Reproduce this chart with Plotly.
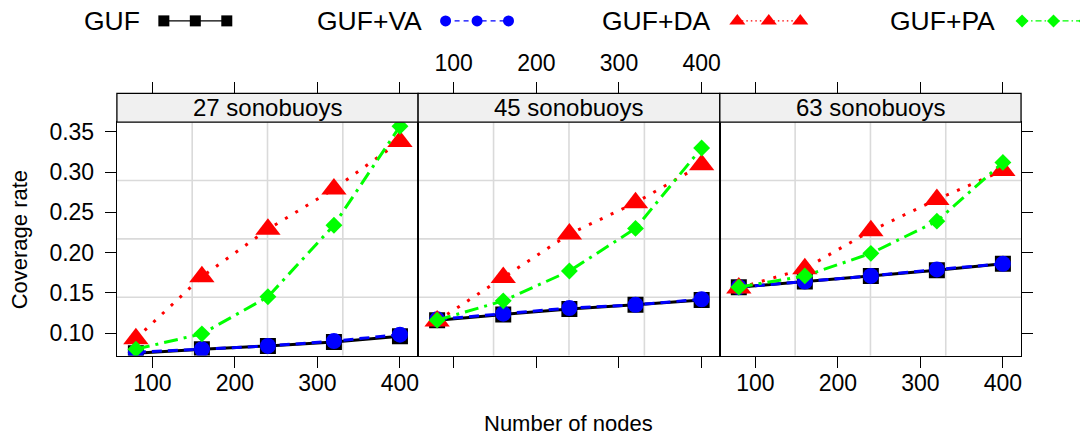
import plotly.graph_objects as go

# Number of nodes (x) shared by every panel
nodes = [80, 160, 240, 320, 400]
panel_titles = ["27 sonobuoys", "45 sonobuoys", "63 sonobuoys"]
tick_vals = [100, 200, 300, 400]
y_ticks = [0.10, 0.15, 0.20, 0.25, 0.30, 0.35]

# Coverage rate per scheme and panel
guf_27 = [0.075, 0.080, 0.084, 0.089, 0.096]
va_27 = [0.076, 0.080, 0.084, 0.090, 0.098]
da_27 = [0.093, 0.170, 0.229, 0.279, 0.338]
pa_27 = [0.080, 0.099, 0.145, 0.234, 0.357]

guf_45 = [0.116, 0.123, 0.130, 0.135, 0.141]
va_45 = [0.117, 0.124, 0.131, 0.135, 0.142]
da_45 = [0.115, 0.169, 0.223, 0.262, 0.309]
pa_45 = [0.116, 0.140, 0.177, 0.230, 0.330]

guf_63 = [0.157, 0.164, 0.171, 0.178, 0.186]
va_63 = [0.157, 0.164, 0.171, 0.179, 0.186]
da_63 = [0.156, 0.180, 0.227, 0.266, 0.302]
pa_63 = [0.157, 0.171, 0.199, 0.239, 0.312]

series_names = ["GUF", "GUF+VA", "GUF+DA", "GUF+PA"]

W, H = 1081, 438
FONT = "Liberation Sans, Arial, Helvetica, sans-serif"


def fx(px):
    return px / W


def fy(py):
    return 1 - py / H


# Pixel layout of the three panels
panel_x = [(117, 418.5), (418.5, 720.5), (720.5, 1022)]
plot_top, plot_bottom = 120, 355
strip_top = 91
x_range = [57, 422]
y_range = [0.072, 0.362]

styles = [
    dict(color="black", symbol="square", size=16, dash="solid", width=3,
         key_dash="solid", key_size=11),
    dict(color="#0000ff", symbol="circle", size=16, dash="10px,6px", width=3,
         key_dash="5px,4px", key_size=11),
    dict(color="#ff0000", symbol="triangle-up", size=22, dash="3px,9px", width=3,
         key_dash="1.5px,3px", key_size=14),
    dict(color="#00ff00", symbol="diamond", size=13, dash="14px,6px,3px,6px", width=3,
         key_dash="6px,3px,1.5px,3px", key_size=10),
]

panel_data = [
    [guf_27, va_27, da_27, pa_27],
    [guf_45, va_45, da_45, pa_45],
    [guf_63, va_63, da_63, pa_63],
]

fig = go.Figure()

for p, group in enumerate(panel_data):
    xa = "x" if p == 0 else f"x{p + 1}"
    ya = "y" if p == 0 else f"y{p + 1}"
    for vals, st, name in zip(group, styles, series_names):
        fig.add_trace(go.Scatter(
            x=nodes, y=vals, name=name, xaxis=xa, yaxis=ya,
            mode="lines+markers", showlegend=False,
            line=dict(color=st["color"], width=st["width"], dash=st["dash"]),
            marker=dict(symbol=st["symbol"], size=st["size"], color=st["color"],
                        line=dict(width=0)),
        ))
    # top axis holder for the tick marks above the strip
    fig.add_trace(go.Scatter(x=[], y=[], xaxis=f"x{p + 4}", yaxis=ya,
                             showlegend=False, hoverinfo="skip"))

axis_common = dict(showgrid=False, zeroline=False, showline=True, linecolor="black",
                   linewidth=1.3, mirror=True, ticks="outside", ticklen=11,
                   tickwidth=1.3, tickcolor="black",
                   tickfont=dict(family=FONT, size=23, color="black"))

layout = dict(
    width=W, height=H, margin=dict(l=0, r=0, t=0, b=0),
    paper_bgcolor="white", plot_bgcolor="rgba(0,0,0,0)",
    showlegend=False, font=dict(family=FONT, color="black"),
)

for p, (x0, x1) in enumerate(panel_x):
    key = "" if p == 0 else str(p + 1)
    layout[f"xaxis{key}"] = dict(
        axis_common, domain=[fx(x0), fx(x1)], range=x_range,
        anchor=f"y{key}", tickvals=tick_vals, showticklabels=(p != 1),
        ticklabelstandoff=-4,
    )
    yax = dict(axis_common, domain=[fy(plot_bottom), fy(plot_top)], range=y_range,
               anchor=f"x{key}", tickvals=y_ticks, tickformat=".2f")
    if p == 0:
        yax.update(side="left", showticklabels=True, ticklabelstandoff=6)
    elif p == 1:
        yax.update(ticks="", showticklabels=False)
    else:
        yax.update(side="right", showticklabels=False)
    layout[f"yaxis{key}"] = yax
    # tick marks on top of the strip; labels only for the middle panel
    layout[f"xaxis{p + 4}"] = dict(
        axis_common, showline=False, mirror=False, side="top",
        overlaying="x" if p == 0 else f"x{p + 1}", anchor="free",
        position=fy(strip_top), range=x_range, tickvals=tick_vals,
        showticklabels=(p == 1), ticklabelstandoff=2,
    )

# Legend drawn on a full-canvas helper axis in pixel units
layout["xaxis7"] = dict(domain=[0, 1], range=[0, W], visible=False, anchor="y7")
layout["yaxis7"] = dict(domain=[0, 1], range=[H, 0], visible=False, anchor="x7")

legend_text_x = [82, 315, 601, 889]
legend_text_w = [56, 105, 111, 108]
legend_y = 18
key_gap = 26
key_step = 31.5

shapes = []
annotations = []

for i, (name, st) in enumerate(zip(series_names, styles)):
    annotations.append(dict(
        x=fx(legend_text_x[i]), y=fy(legend_y), xref="paper", yref="paper",
        text=name, showarrow=False, xanchor="left", yanchor="middle",
        font=dict(family=FONT, size=26.5, color="black"),
    ))
    start = legend_text_x[i] + legend_text_w[i] + key_gap
    kx = [start + k * key_step for k in range(3)]
    fig.add_trace(go.Scatter(
        x=kx, y=[legend_y] * 3, xaxis="x7", yaxis="y7", mode="lines+markers",
        showlegend=False, hoverinfo="skip",
        line=dict(color=st["color"], width=1.2, dash=st["key_dash"]),
        marker=dict(symbol=st["symbol"], size=st["key_size"], color=st["color"],
                    line=dict(width=0)),
    ))

for p, (x0, x1) in enumerate(panel_x):
    key = "" if p == 0 else str(p + 1)
    # evenly spaced reference grid inside each panel
    for f in (0.25, 0.5, 0.75):
        shapes.append(dict(type="line", xref=f"x{key} domain", yref=f"y{key} domain",
                           x0=f, x1=f, y0=0, y1=1, layer="below",
                           line=dict(color="#dadada", width=1.6)))
        shapes.append(dict(type="line", xref=f"x{key} domain", yref=f"y{key} domain",
                           x0=0, x1=1, y0=f, y1=f, layer="below",
                           line=dict(color="#dadada", width=1.6)))
    # strip with panel title
    shapes.append(dict(type="rect", xref="paper", yref="paper",
                       x0=fx(x0), x1=fx(x1), y0=fy(plot_top), y1=fy(strip_top),
                       fillcolor="#f0f0f0", line=dict(color="black", width=1.3)))
    annotations.append(dict(
        x=fx((x0 + x1) / 2), y=fy((strip_top + plot_top) / 2), xref="paper", yref="paper",
        text=panel_titles[p], showarrow=False, xanchor="center", yanchor="middle",
        font=dict(family=FONT, size=24, color="black"),
    ))

annotations.append(dict(
    x=fx(569.5), y=fy(423), xref="paper", yref="paper", text="Number of nodes",
    showarrow=False, xanchor="center", yanchor="middle",
    font=dict(family=FONT, size=22, color="black"),
))
annotations.append(dict(
    x=fx(19), y=fy(238), xref="paper", yref="paper", text="Coverage rate",
    showarrow=False, xanchor="center", yanchor="middle", textangle=-90,
    font=dict(family=FONT, size=22, color="black"),
))

layout["shapes"] = shapes
layout["annotations"] = annotations
fig.update_layout(**layout)

fig.write_html("out.html")
